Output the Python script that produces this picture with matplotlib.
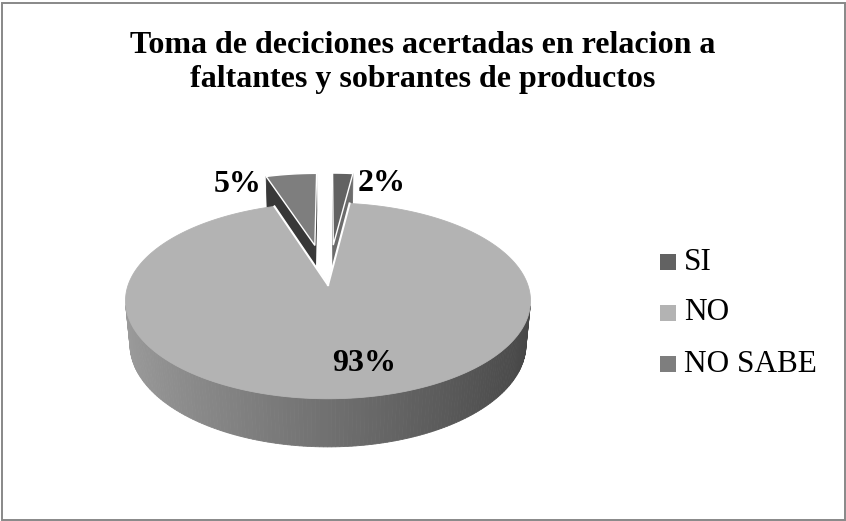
import numpy as np
import matplotlib.pyplot as plt
from matplotlib.patches import Polygon, Rectangle

#%% datos
categorias = ['SI', 'NO', 'NO SABE']
porcentajes = [2, 93, 5]
etiquetas = ['2%', '93%', '5%']
colores = ['#626262', '#b3b3b3', '#7e7e7e']
colores_corte = ['#6c6c6c', '#505050', '#383838']
explotar = [0.45, 0.0, 0.45]
titulo = 'Toma de deciciones acertadas en relacion a\nfaltantes y sobrantes de productos'

#%% figura en coordenadas de pixel
W, H = 846, 521
fig = plt.figure(figsize=(W / 100, H / 100), dpi=100)
ax = fig.add_axes([0, 0, 1, 1])
ax.set_xlim(0, W)
ax.set_ylim(H, 0)
ax.axis('off')

ax.add_patch(Rectangle((1.5, 2.5), 843, 517, fill=False, edgecolor='#888888', lw=1.4))

fuente = 'Liberation Serif'
ax.text(423, 31, titulo, ha='center', va='top', fontsize=23, fontweight='bold',
        family=fuente, linespacing=1.22)

#%% pastel 3D con perspectiva
# X derecha, Y hacia atras, Z arriba; angulo horario desde atras (12 en punto)
elev = np.radians(28.5)
se, ce = np.sin(elev), np.cos(elev)
D = 5.43        # distancia de la camara
grosor = 0.25
sx0, sy0 = 328, 285
cmax = -ce / D
k = 202.5 / (np.sqrt(1 - cmax ** 2) / (D + ce * cmax))


def proy(X, Y, Z):
    d = D + Y * ce - Z * se
    return X / d, (Y * se + Z * ce) / d


def a_pix(pts3):
    xy = [proy(*p) for p in pts3]
    return [(sx0 + k * x, sy0 - k * y) for x, y in xy], xy


def area(xy):
    x = np.array([p[0] for p in xy])
    y = np.array([p[1] for p in xy])
    return 0.5 * np.sum(x * np.roll(y, -1) - np.roll(x, -1) * y)


def borde(ang, ox, oy, z=0.0):
    t = np.radians(ang)
    return (ox + np.sin(t), oy + np.cos(t), z)


tot = sum(porcentajes)
lim = np.concatenate([[0], np.cumsum(porcentajes) / tot * 360])
rebanadas = []
for i in range(len(porcentajes)):
    a0, a1 = lim[i], lim[i + 1]
    mid = (a0 + a1) / 2
    ox = explotar[i] * np.sin(np.radians(mid))
    oy = explotar[i] * np.cos(np.radians(mid))
    rebanadas.append((a0, a1, mid, ox, oy))


def dibujar(pts3, color, ec=None, lw=0.6, forzar=False):
    pix, xy = a_pix(pts3)
    if forzar or area(xy) > 0:
        ax.add_patch(Polygon(pix, closed=True, facecolor=color,
                             edgecolor=ec if ec else color, lw=lw))


# primero las rebanadas separadas (atras), luego la grande
orden = sorted(range(len(porcentajes)), key=lambda j: explotar[j] == 0)
for i in orden:
    a0, a1, mid, ox, oy = rebanadas[i]
    c0 = (ox, oy, 0.0)
    c1 = (ox, oy, -grosor)
    # caras de corte
    dibujar([c0, borde(a0, ox, oy), borde(a0, ox, oy, -grosor), c1], colores_corte[i])
    dibujar([c0, c1, borde(a1, ox, oy, -grosor), borde(a1, ox, oy)], colores_corte[i])
    # lado exterior con degradado
    angs = np.linspace(a0, a1, int(a1 - a0) + 2)
    for j in range(len(angs) - 1):
        s = np.sin(np.radians((angs[j] + angs[j + 1]) / 2))
        g = 0.44 - 0.17 * s
        dibujar([borde(angs[j], ox, oy), borde(angs[j + 1], ox, oy),
                 borde(angs[j + 1], ox, oy, -grosor), borde(angs[j], ox, oy, -grosor)],
                (g, g, g))
    # cara superior
    arco = [borde(a, ox, oy) for a in np.linspace(a1, a0, int(a1 - a0) * 2 + 4)]
    if explotar[i] > 0:
        dibujar([c0] + arco, colores[i], ec='white', lw=1.0, forzar=True)
    else:
        dibujar([c0] + arco, colores[i], forzar=True)
        for a in (a0, a1):
            pix, _ = a_pix([c0, borde(a, ox, oy)])
            ax.plot([pix[0][0], pix[1][0]], [pix[0][1], pix[1][1]], color='white', lw=1.5)

#%% etiquetas de datos
for i in range(len(porcentajes)):
    a0, a1, mid, ox, oy = rebanadas[i]
    if explotar[i] == 0:
        t = np.radians(mid)
        (x, y), = a_pix([(ox + 0.6 * np.sin(t), oy + 0.6 * np.cos(t), 0)])[0]
        ax.text(x + 24, y + 15, etiquetas[i], ha='center', va='center',
                fontsize=23, fontweight='bold', family=fuente)
    elif np.sin(np.radians(mid)) > 0:
        (x, y), = a_pix([borde(a1, ox, oy)])[0]
        ax.text(x + 5, y + 10, etiquetas[i], ha='left', va='center',
                fontsize=23, fontweight='bold', family=fuente)
    else:
        (x, y), = a_pix([borde(a0, ox, oy)])[0]
        ax.text(x - 5, y + 8, etiquetas[i], ha='right', va='center',
                fontsize=23, fontweight='bold', family=fuente)

#%% leyenda
for i, cat in enumerate(categorias):
    yl = 262 + i * 51
    ax.add_patch(Rectangle((660, yl - 8), 16, 16, facecolor=colores[i], edgecolor='none'))
    ax.text(684, yl, cat, ha='left', va='center', fontsize=22.5, family=fuente)

fig.savefig('out.png', dpi=100)
